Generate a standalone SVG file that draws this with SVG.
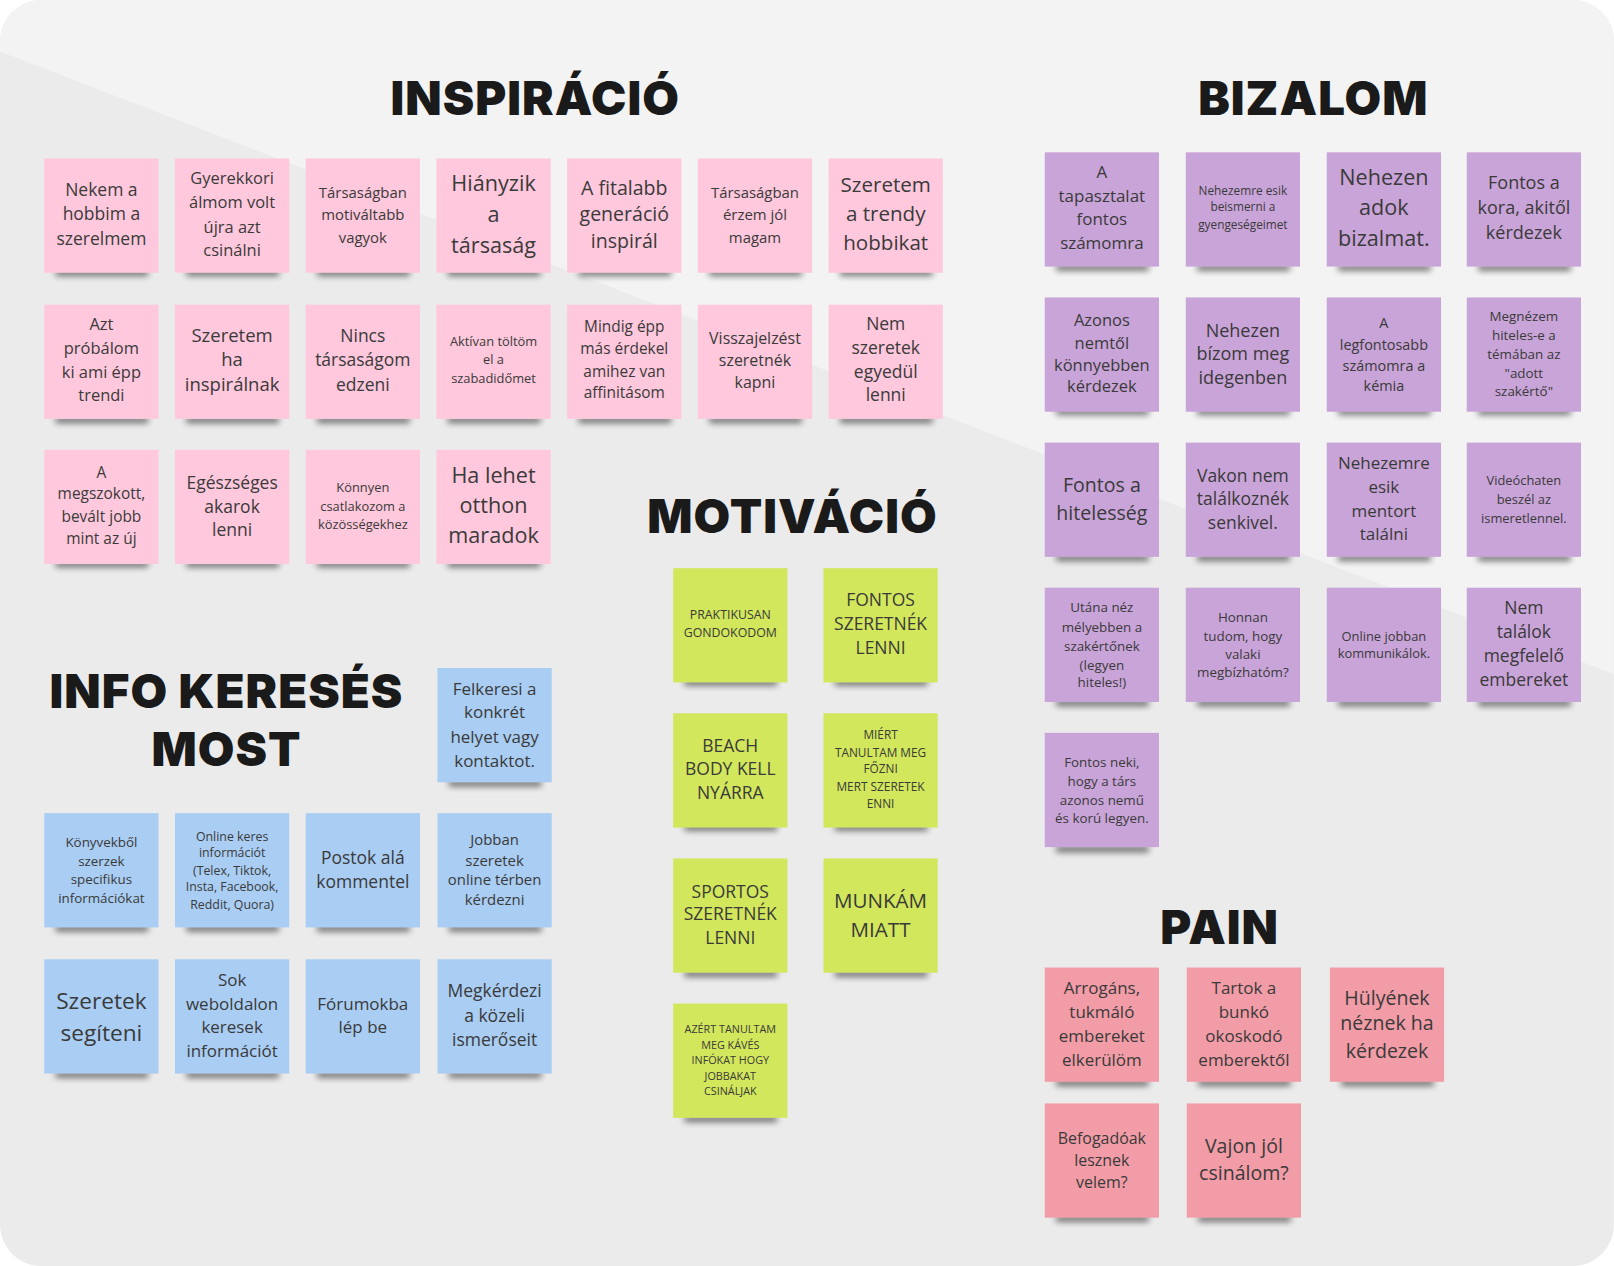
<svg xmlns="http://www.w3.org/2000/svg" width="1614" height="1266" viewBox="0 0 1614 1266">
<defs>
<style>
.n text{font-family:"Open Sans","Noto Sans",sans-serif;fill:#3a3a3a;text-anchor:middle}
.t{font-family:Inter,"Liberation Sans",sans-serif;font-weight:900;fill:#1a1a1a;text-anchor:middle;font-size:46px;letter-spacing:1px}
.pk{fill:#ffc8dc}.pu{fill:#c9a4d8}.gr{fill:#d2e75c}.bl{fill:#a9cdf3}.pa{fill:#f19ca6}
.sh{fill:#000;opacity:.55;filter:url(#b)}
</style>
<filter id="b" x="-20%" y="-100%" width="140%" height="300%"><feGaussianBlur stdDeviation="3"/></filter>
<clipPath id="c"><rect x="0" y="0" width="1568" height="1230" rx="40"/></clipPath>
</defs>
<rect width="1614" height="1266" fill="#fff"/>
<g transform="scale(1.0293)">
<g clip-path="url(#c)">
<rect width="1568" height="1230" fill="#ebebeb"/>
<polygon points="0,50 1568,655 1568,0 0,0" fill="#f3f3f3"/>
</g>
<text class="t" x="520" y="112">INSPIRÁCIÓ</text>
<text class="t" x="1276" y="112">BIZALOM</text>
<text class="t" x="770" y="518">MOTIVÁCIÓ</text>
<text class="t" x="220" y="688">INFO KERESÉS</text>
<text class="t" x="220" y="744">MOST</text>
<text class="t" x="1185" y="917">PAIN</text>

<g id="insp1" class="n"><rect class="sh" x="54" y="262" width="90" height="6"/><rect class="pk" x="43" y="154" width="111" height="111"/><text font-size="17"><tspan x="98.5" y="190">Nekem a</tspan><tspan x="98.5" y="214">hobbim a</tspan><tspan x="98.5" y="238">szerelmem</tspan></text></g>
<g id="insp2" class="n"><rect class="sh" x="181" y="262" width="90" height="6"/><rect class="pk" x="170" y="154" width="111" height="111"/><text font-size="16"><tspan x="225.5" y="179">Gyerekkori</tspan><tspan x="225.5" y="202">álmom volt</tspan><tspan x="225.5" y="226">újra azt</tspan><tspan x="225.5" y="249">csinálni</tspan></text></g>
<g id="insp3" class="n"><rect class="sh" x="308" y="262" width="90" height="6"/><rect class="pk" x="297" y="154" width="111" height="111"/><text font-size="14.5"><tspan x="352.5" y="192">Társaságban</tspan><tspan x="352.5" y="214">motiváltabb</tspan><tspan x="352.5" y="236">vagyok</tspan></text></g>
<g id="insp4" class="n"><rect class="sh" x="435" y="262" width="90" height="6"/><rect class="pk" x="424" y="154" width="111" height="111"/><text font-size="21"><tspan x="479.5" y="186">Hiányzik</tspan><tspan x="479.5" y="216">a</tspan><tspan x="479.5" y="246">társaság</tspan></text></g>
<g id="insp5" class="n"><rect class="sh" x="562" y="262" width="90" height="6"/><rect class="pk" x="551" y="154" width="111" height="111"/><text font-size="19"><tspan x="606.5" y="189">A fitalabb</tspan><tspan x="606.5" y="215">generáció</tspan><tspan x="606.5" y="241">inspirál</tspan></text></g>
<g id="insp6" class="n"><rect class="sh" x="689" y="262" width="90" height="6"/><rect class="pk" x="678" y="154" width="111" height="111"/><text font-size="14.5"><tspan x="733.5" y="192">Társaságban</tspan><tspan x="733.5" y="214">érzem jól</tspan><tspan x="733.5" y="236">magam</tspan></text></g>
<g id="insp7" class="n"><rect class="sh" x="816" y="262" width="90" height="6"/><rect class="pk" x="805" y="154" width="111" height="111"/><text font-size="20"><tspan x="860.5" y="187">Szeretem</tspan><tspan x="860.5" y="215">a trendy</tspan><tspan x="860.5" y="243">hobbikat</tspan></text></g>

<g id="insp8" class="n"><rect class="sh" x="54" y="405" width="90" height="6"/><rect class="pk" x="43" y="296" width="111" height="111"/><text font-size="16"><tspan x="98.5" y="321">Azt</tspan><tspan x="98.5" y="344">próbálom</tspan><tspan x="98.5" y="367">ki ami épp</tspan><tspan x="98.5" y="390">trendi</tspan></text></g>
<g id="insp9" class="n"><rect class="sh" x="181" y="405" width="90" height="6"/><rect class="pk" x="170" y="296" width="111" height="111"/><text font-size="18"><tspan x="225.5" y="332">Szeretem</tspan><tspan x="225.5" y="356">ha</tspan><tspan x="225.5" y="380">inspirálnak</tspan></text></g>
<g id="insp10" class="n"><rect class="sh" x="308" y="405" width="90" height="6"/><rect class="pk" x="297" y="296" width="111" height="111"/><text font-size="17"><tspan x="352.5" y="332">Nincs</tspan><tspan x="352.5" y="356">társaságom</tspan><tspan x="352.5" y="380">edzeni</tspan></text></g>
<g id="insp11" class="n"><rect class="sh" x="435" y="405" width="90" height="6"/><rect class="pk" x="424" y="296" width="111" height="111"/><text font-size="12.5"><tspan x="479.5" y="336">Aktívan töltöm</tspan><tspan x="479.5" y="354">el a</tspan><tspan x="479.5" y="372">szabadidőmet</tspan></text></g>
<g id="insp12" class="n"><rect class="sh" x="562" y="405" width="90" height="6"/><rect class="pk" x="551" y="296" width="111" height="111"/><text font-size="15"><tspan x="606.5" y="323">Mindig épp</tspan><tspan x="606.5" y="344">más érdekel</tspan><tspan x="606.5" y="366">amihez van</tspan><tspan x="606.5" y="387">affinitásom</tspan></text></g>
<g id="insp13" class="n"><rect class="sh" x="689" y="405" width="90" height="6"/><rect class="pk" x="678" y="296" width="111" height="111"/><text font-size="15.5"><tspan x="733.5" y="334">Visszajelzést</tspan><tspan x="733.5" y="356">szeretnék</tspan><tspan x="733.5" y="377">kapni</tspan></text></g>
<g id="insp14" class="n"><rect class="sh" x="816" y="405" width="90" height="6"/><rect class="pk" x="805" y="296" width="111" height="111"/><text font-size="17"><tspan x="860.5" y="321">Nem</tspan><tspan x="860.5" y="344">szeretek</tspan><tspan x="860.5" y="367">egyedül</tspan><tspan x="860.5" y="390">lenni</tspan></text></g>

<g id="insp15" class="n"><rect class="sh" x="54" y="545" width="90" height="6"/><rect class="pk" x="43" y="437" width="111" height="111"/><text font-size="15"><tspan x="98.5" y="464">A</tspan><tspan x="98.5" y="485">megszokott,</tspan><tspan x="98.5" y="507">bevált jobb</tspan><tspan x="98.5" y="529">mint az új</tspan></text></g>
<g id="insp16" class="n"><rect class="sh" x="181" y="545" width="90" height="6"/><rect class="pk" x="170" y="437" width="111" height="111"/><text font-size="17"><tspan x="225.5" y="475">Egészséges</tspan><tspan x="225.5" y="498">akarok</tspan><tspan x="225.5" y="521">lenni</tspan></text></g>
<g id="insp17" class="n"><rect class="sh" x="308" y="545" width="90" height="6"/><rect class="pk" x="297" y="437" width="111" height="111"/><text font-size="12.5"><tspan x="352.5" y="478">Könnyen</tspan><tspan x="352.5" y="496">csatlakozom a</tspan><tspan x="352.5" y="514">közösségekhez</tspan></text></g>
<g id="insp18" class="n"><rect class="sh" x="435" y="545" width="90" height="6"/><rect class="pk" x="424" y="437" width="111" height="111"/><text font-size="21"><tspan x="479.5" y="469">Ha lehet</tspan><tspan x="479.5" y="498">otthon</tspan><tspan x="479.5" y="528">maradok</tspan></text></g>

<g id="biz1" class="n"><rect class="sh" x="1026" y="257" width="90" height="6"/><rect class="pu" x="1015" y="148" width="111" height="111"/><text font-size="16.5"><tspan x="1070.5" y="173">A</tspan><tspan x="1070.5" y="196">tapasztalat</tspan><tspan x="1070.5" y="219">fontos</tspan><tspan x="1070.5" y="242">számomra</tspan></text></g>
<g id="biz2" class="n"><rect class="sh" x="1163" y="257" width="90" height="6"/><rect class="pu" x="1152" y="148" width="111" height="111"/><text font-size="11.5"><tspan x="1207.5" y="189">Nehezemre esik</tspan><tspan x="1207.5" y="205">beismerni a</tspan><tspan x="1207.5" y="222">gyengeségeimet</tspan></text></g>
<g id="biz3" class="n"><rect class="sh" x="1300" y="257" width="90" height="6"/><rect class="pu" x="1289" y="148" width="111" height="111"/><text font-size="21"><tspan x="1344.5" y="180">Nehezen</tspan><tspan x="1344.5" y="209">adok</tspan><tspan x="1344.5" y="239">bizalmat.</tspan></text></g>
<g id="biz4" class="n"><rect class="sh" x="1436" y="257" width="90" height="6"/><rect class="pu" x="1425" y="148" width="111" height="111"/><text font-size="17.5"><tspan x="1480.5" y="184">Fontos a</tspan><tspan x="1480.5" y="208">kora, akitől</tspan><tspan x="1480.5" y="232">kérdezek</tspan></text></g>

<g id="biz5" class="n"><rect class="sh" x="1026" y="397" width="90" height="6"/><rect class="pu" x="1015" y="289" width="111" height="111"/><text font-size="16"><tspan x="1070.5" y="317">Azonos</tspan><tspan x="1070.5" y="339">nemtől</tspan><tspan x="1070.5" y="360">könnyebben</tspan><tspan x="1070.5" y="381">kérdezek</tspan></text></g>
<g id="biz6" class="n"><rect class="sh" x="1163" y="397" width="90" height="6"/><rect class="pu" x="1152" y="289" width="111" height="111"/><text font-size="17.5"><tspan x="1207.5" y="327">Nehezen</tspan><tspan x="1207.5" y="350">bízom meg</tspan><tspan x="1207.5" y="373">idegenben</tspan></text></g>
<g id="biz7" class="n"><rect class="sh" x="1300" y="397" width="90" height="6"/><rect class="pu" x="1289" y="289" width="111" height="111"/><text font-size="14"><tspan x="1344.5" y="319">A</tspan><tspan x="1344.5" y="340">legfontosabb</tspan><tspan x="1344.5" y="360">számomra a</tspan><tspan x="1344.5" y="380">kémia</tspan></text></g>
<g id="biz8" class="n"><rect class="sh" x="1436" y="397" width="90" height="6"/><rect class="pu" x="1425" y="289" width="111" height="111"/><text font-size="13"><tspan x="1480.5" y="312">Megnézem</tspan><tspan x="1480.5" y="330">hiteles-e a</tspan><tspan x="1480.5" y="349">témában az</tspan><tspan x="1480.5" y="367">"adott</tspan><tspan x="1480.5" y="385">szakértő"</tspan></text></g>

<g id="biz9" class="n"><rect class="sh" x="1026" y="539" width="90" height="6"/><rect class="pu" x="1015" y="430" width="111" height="111"/><text font-size="19"><tspan x="1070.5" y="478">Fontos a</tspan><tspan x="1070.5" y="505">hitelesség</tspan></text></g>
<g id="biz10" class="n"><rect class="sh" x="1163" y="539" width="90" height="6"/><rect class="pu" x="1152" y="430" width="111" height="111"/><text font-size="17"><tspan x="1207.5" y="468">Vakon nem</tspan><tspan x="1207.5" y="491">találkoznék</tspan><tspan x="1207.5" y="514">senkivel.</tspan></text></g>
<g id="biz11" class="n"><rect class="sh" x="1300" y="539" width="90" height="6"/><rect class="pu" x="1289" y="430" width="111" height="111"/><text font-size="16.5"><tspan x="1344.5" y="456">Nehezemre</tspan><tspan x="1344.5" y="479">esik</tspan><tspan x="1344.5" y="502">mentort</tspan><tspan x="1344.5" y="525">találni</tspan></text></g>
<g id="biz12" class="n"><rect class="sh" x="1436" y="539" width="90" height="6"/><rect class="pu" x="1425" y="430" width="111" height="111"/><text font-size="12.5"><tspan x="1480.5" y="471">Videóchaten</tspan><tspan x="1480.5" y="490">beszél az</tspan><tspan x="1480.5" y="508">ismeretlennel.</tspan></text></g>

<g id="biz13" class="n"><rect class="sh" x="1026" y="680" width="90" height="6"/><rect class="pu" x="1015" y="571" width="111" height="111"/><text font-size="13"><tspan x="1070.5" y="595">Utána néz</tspan><tspan x="1070.5" y="614">mélyebben a</tspan><tspan x="1070.5" y="632">szakértőnek</tspan><tspan x="1070.5" y="651">(legyen</tspan><tspan x="1070.5" y="667">hiteles!)</tspan></text></g>
<g id="biz14" class="n"><rect class="sh" x="1163" y="680" width="90" height="6"/><rect class="pu" x="1152" y="571" width="111" height="111"/><text font-size="13"><tspan x="1207.5" y="604">Honnan</tspan><tspan x="1207.5" y="623">tudom, hogy</tspan><tspan x="1207.5" y="640">valaki</tspan><tspan x="1207.5" y="658">megbízhatóm?</tspan></text></g>
<g id="biz15" class="n"><rect class="sh" x="1300" y="680" width="90" height="6"/><rect class="pu" x="1289" y="571" width="111" height="111"/><text font-size="12.5"><tspan x="1344.5" y="623">Online jobban</tspan><tspan x="1344.5" y="639">kommunikálok.</tspan></text></g>
<g id="biz16" class="n"><rect class="sh" x="1436" y="680" width="90" height="6"/><rect class="pu" x="1425" y="571" width="111" height="111"/><text font-size="17"><tspan x="1480.5" y="597">Nem</tspan><tspan x="1480.5" y="620">találok</tspan><tspan x="1480.5" y="643">megfelelő</tspan><tspan x="1480.5" y="666">embereket</tspan></text></g>
<g id="biz17" class="n"><rect class="sh" x="1026" y="822" width="90" height="6"/><rect class="pu" x="1015" y="712" width="111" height="111"/><text font-size="13"><tspan x="1070.5" y="745">Fontos neki,</tspan><tspan x="1070.5" y="764">hogy a társ</tspan><tspan x="1070.5" y="782">azonos nemű</tspan><tspan x="1070.5" y="800">és korú legyen.</tspan></text></g>

<g id="mot1" class="n"><rect class="sh" x="665" y="660" width="90" height="6"/><rect class="gr" x="654" y="552" width="111" height="111"/><text font-size="12"><tspan x="709.5" y="601">PRAKTIKUSAN</tspan><tspan x="709.5" y="619">GONDOKODOM</tspan></text></g>
<g id="mot2" class="n"><rect class="sh" x="811" y="660" width="90" height="6"/><rect class="gr" x="800" y="552" width="111" height="111"/><text font-size="17"><tspan x="855.5" y="589">FONTOS</tspan><tspan x="855.5" y="612">SZERETNÉK</tspan><tspan x="855.5" y="635">LENNI</tspan></text></g>
<g id="mot3" class="n"><rect class="sh" x="665" y="801" width="90" height="6"/><rect class="gr" x="654" y="693" width="111" height="111"/><text font-size="17"><tspan x="709.5" y="731">BEACH</tspan><tspan x="709.5" y="753">BODY KELL</tspan><tspan x="709.5" y="776">NYÁRRA</tspan></text></g>
<g id="mot4" class="n"><rect class="sh" x="811" y="801" width="90" height="6"/><rect class="gr" x="800" y="693" width="111" height="111"/><text font-size="11.5"><tspan x="855.5" y="718">MIÉRT</tspan><tspan x="855.5" y="735">TANULTAM MEG</tspan><tspan x="855.5" y="751">FŐZNI</tspan><tspan x="855.5" y="768">MERT SZERETEK</tspan><tspan x="855.5" y="785">ENNI</tspan></text></g>
<g id="mot5" class="n"><rect class="sh" x="665" y="943" width="90" height="6"/><rect class="gr" x="654" y="834" width="111" height="111"/><text font-size="17"><tspan x="709.5" y="872">SPORTOS</tspan><tspan x="709.5" y="894">SZERETNÉK</tspan><tspan x="709.5" y="917">LENNI</tspan></text></g>
<g id="mot6" class="n"><rect class="sh" x="811" y="943" width="90" height="6"/><rect class="gr" x="800" y="834" width="111" height="111"/><text font-size="20"><tspan x="855.5" y="882">MUNKÁM</tspan><tspan x="855.5" y="910">MIATT</tspan></text></g>
<g id="mot7" class="n"><rect class="sh" x="665" y="1084" width="90" height="6"/><rect class="gr" x="654" y="975" width="111" height="111"/><text font-size="10.5"><tspan x="709.5" y="1004">AZÉRT TANULTAM</tspan><tspan x="709.5" y="1019">MEG KÁVÉS</tspan><tspan x="709.5" y="1034">INFÓKAT HOGY</tspan><tspan x="709.5" y="1049">JOBBAKAT</tspan><tspan x="709.5" y="1064">CSINÁLJAK</tspan></text></g>

<g id="info1" class="n"><rect class="sh" x="436" y="758" width="90" height="6"/><rect class="bl" x="425" y="649" width="111" height="111"/><text font-size="16.5"><tspan x="480.5" y="675">Felkeresi a</tspan><tspan x="480.5" y="698">konkrét</tspan><tspan x="480.5" y="722">helyet vagy</tspan><tspan x="480.5" y="745">kontaktot.</tspan></text></g>
<g id="info2" class="n"><rect class="sh" x="54" y="899" width="90" height="6"/><rect class="bl" x="43" y="790" width="111" height="111"/><text font-size="13"><tspan x="98.5" y="823">Könyvekből</tspan><tspan x="98.5" y="841">szerzek</tspan><tspan x="98.5" y="859">specifikus</tspan><tspan x="98.5" y="877">információkat</tspan></text></g>
<g id="info3" class="n"><rect class="sh" x="181" y="899" width="90" height="6"/><rect class="bl" x="170" y="790" width="111" height="111"/><text font-size="12"><tspan x="225.5" y="817">Online keres</tspan><tspan x="225.5" y="833">információt</tspan><tspan x="225.5" y="850">(Telex, Tiktok,</tspan><tspan x="225.5" y="866">Insta, Facebook,</tspan><tspan x="225.5" y="883">Reddit, Quora)</tspan></text></g>
<g id="info4" class="n"><rect class="sh" x="308" y="899" width="90" height="6"/><rect class="bl" x="297" y="790" width="111" height="111"/><text font-size="17"><tspan x="352.5" y="839">Postok alá</tspan><tspan x="352.5" y="863">kommentel</tspan></text></g>
<g id="info5" class="n"><rect class="sh" x="436" y="899" width="90" height="6"/><rect class="bl" x="425" y="790" width="111" height="111"/><text font-size="14.5"><tspan x="480.5" y="821">Jobban</tspan><tspan x="480.5" y="841">szeretek</tspan><tspan x="480.5" y="860">online térben</tspan><tspan x="480.5" y="879">kérdezni</tspan></text></g>
<g id="info6" class="n"><rect class="sh" x="54" y="1041" width="90" height="6"/><rect class="bl" x="43" y="932" width="111" height="111"/><text font-size="22"><tspan x="98.5" y="980">Szeretek</tspan><tspan x="98.5" y="1011">segíteni</tspan></text></g>
<g id="info7" class="n"><rect class="sh" x="181" y="1041" width="90" height="6"/><rect class="bl" x="170" y="932" width="111" height="111"/><text font-size="16.5"><tspan x="225.5" y="958">Sok</tspan><tspan x="225.5" y="981">weboldalon</tspan><tspan x="225.5" y="1004">keresek</tspan><tspan x="225.5" y="1027">információt</tspan></text></g>
<g id="info8" class="n"><rect class="sh" x="308" y="1041" width="90" height="6"/><rect class="bl" x="297" y="932" width="111" height="111"/><text font-size="16.5"><tspan x="352.5" y="981">Fórumokba</tspan><tspan x="352.5" y="1004">lép be</tspan></text></g>
<g id="info9" class="n"><rect class="sh" x="436" y="1041" width="90" height="6"/><rect class="bl" x="425" y="932" width="111" height="111"/><text font-size="17"><tspan x="480.5" y="969">Megkérdezi</tspan><tspan x="480.5" y="993">a közeli</tspan><tspan x="480.5" y="1016">ismerőseit</tspan></text></g>

<g id="pain1" class="n"><rect class="sh" x="1026" y="1049" width="90" height="6"/><rect class="pa" x="1015" y="940" width="111" height="111"/><text font-size="16.5"><tspan x="1070.5" y="966">Arrogáns,</tspan><tspan x="1070.5" y="989">tukmáló</tspan><tspan x="1070.5" y="1012">embereket</tspan><tspan x="1070.5" y="1036">elkerülöm</tspan></text></g>
<g id="pain2" class="n"><rect class="sh" x="1164" y="1049" width="90" height="6"/><rect class="pa" x="1153" y="940" width="111" height="111"/><text font-size="16.5"><tspan x="1208.5" y="966">Tartok a</tspan><tspan x="1208.5" y="989">bunkó</tspan><tspan x="1208.5" y="1012">okoskodó</tspan><tspan x="1208.5" y="1036">emberektől</tspan></text></g>
<g id="pain3" class="n"><rect class="sh" x="1303" y="1049" width="90" height="6"/><rect class="pa" x="1292" y="940" width="111" height="111"/><text font-size="19"><tspan x="1347.5" y="976">Hülyének</tspan><tspan x="1347.5" y="1001">néznek ha</tspan><tspan x="1347.5" y="1028">kérdezek</tspan></text></g>
<g id="pain4" class="n"><rect class="sh" x="1026" y="1181" width="90" height="6"/><rect class="pa" x="1015" y="1072" width="111" height="111"/><text font-size="15.5"><tspan x="1070.5" y="1111">Befogadóak</tspan><tspan x="1070.5" y="1133">lesznek</tspan><tspan x="1070.5" y="1154">velem?</tspan></text></g>
<g id="pain5" class="n"><rect class="sh" x="1164" y="1181" width="90" height="6"/><rect class="pa" x="1153" y="1072" width="111" height="111"/><text font-size="19"><tspan x="1208.5" y="1120">Vajon jól</tspan><tspan x="1208.5" y="1146">csinálom?</tspan></text></g>
<g id="connectors"/>
</g>
</svg>
